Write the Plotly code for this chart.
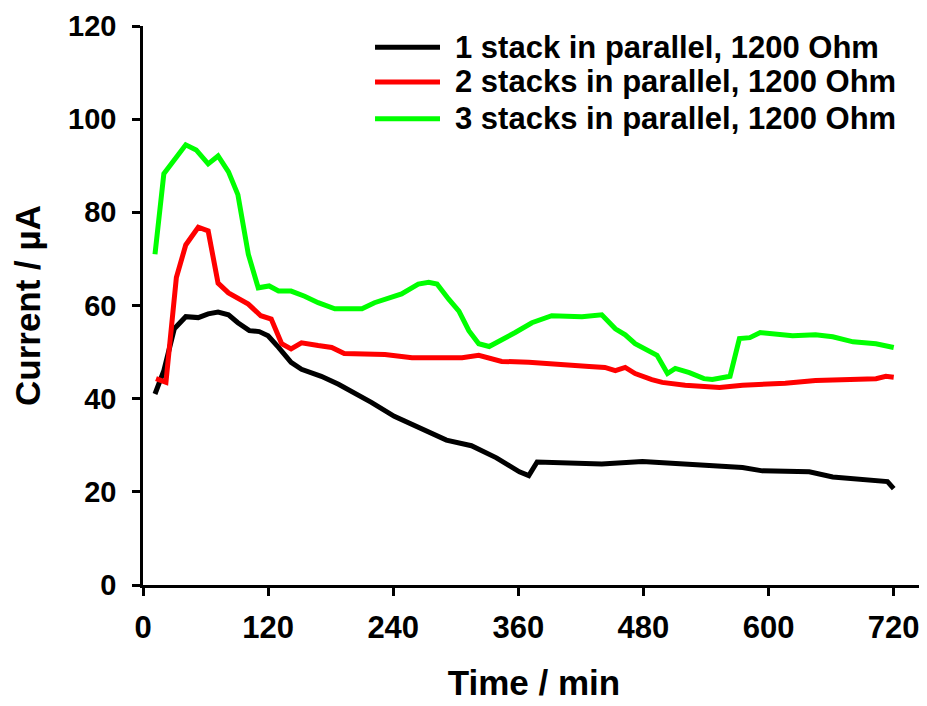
import plotly.graph_objects as go

series_names = [
    "1 stack in parallel, 1200 Ohm",
    "2 stacks in parallel, 1200 Ohm",
    "3 stacks in parallel, 1200 Ohm",
]
series_colors = ["#000000", "#FF0000", "#00FF00"]

t1 = [11.5, 20, 30, 41, 53, 62.5, 72, 82, 91, 102, 111.5, 120, 130, 142, 152, 171, 187.5,
      200, 219, 241, 258, 277, 291, 315, 339, 361, 370, 378, 402, 440, 479, 543, 575, 594,
      639, 661.5, 703, 714, 720]
i1 = [41, 46, 55, 57.6, 57.4, 58.2, 58.6, 58, 56.3, 54.6, 54.4, 53.5, 51, 47.8, 46.3, 44.8,
      43.1, 41.6, 39.2, 36.2, 34.5, 32.4, 31.1, 29.9, 27.3, 24.3, 23.5, 26.4, 26.2, 26,
      26.5, 25.8, 25.2, 24.5, 24.3, 23.2, 22.6, 22.2, 20.7]

t2 = [12.5, 22, 32, 41, 53, 62.5, 72, 82, 101, 113, 123, 133, 142, 152, 168, 181, 193,
      212.5, 232, 258, 277, 284, 306, 322, 344, 370, 386, 405, 428, 443, 453, 462.5, 472,
      488, 498, 520, 553, 575, 594, 616, 645, 681, 703, 712.5, 720]
i2 = [44.3, 43.5, 66, 73, 76.8, 76, 64.8, 62.7, 60.3, 57.8, 57.1, 51.8, 50.7, 52, 51.4,
      51, 49.7, 49.5, 49.5, 48.8, 48.8, 49, 48.8, 49.3, 48, 47.8, 47.5, 47.1, 46.9, 46.7,
      46, 46.7, 45.4, 44.1, 43.5, 42.9, 42.4, 42.9, 43.1, 43.3, 43.9, 44.3, 44.3, 44.8,
      44.6]

t3 = [11.5, 20, 41, 51, 62.5, 72, 82, 91, 101, 110.5, 121, 130, 142, 155, 168, 184, 210,
      222, 248, 264, 274, 282, 293, 303, 312.5, 322, 332, 344, 357, 373, 392, 421, 440,
      453, 462.5, 472, 488, 493, 503, 510.5, 524, 538, 546, 563, 572, 582, 592, 623, 645,
      661.5, 681, 703, 720]
i3 = [71, 88.3, 94.5, 93.4, 90.4, 92.1, 88.7, 83.8, 71, 63.8, 64.2, 63.1, 63.1, 62, 60.6,
      59.3, 59.3, 60.6, 62.5, 64.6, 65, 64.6, 61.4, 58.8, 54.6, 51.8, 51.2, 52.5, 54.2,
      56.3, 57.8, 57.6, 58, 55, 53.7, 51.8, 49.7, 49.3, 45.4, 46.5, 45.6, 44.3, 44.1,
      44.8, 52.9, 53.1, 54.2, 53.5, 53.7, 53.3, 52.2, 51.8, 51]

x_ticks = [0, 120, 240, 360, 480, 600, 720]
y_ticks = [0, 20, 40, 60, 80, 100, 120]

FONT = "Liberation Sans, Arial, sans-serif"

fig = go.Figure()
for t, v, name, col in zip([t1, t2, t3], [i1, i2, i3], series_names, series_colors):
    fig.add_trace(go.Scatter(x=t, y=v, mode="lines", name=name,
                             line=dict(color=col, width=5), showlegend=False))

# manual legend (long line samples like the reference)
legend_rows = [0.962, 0.900, 0.834]
for name, col, yy in zip(series_names, series_colors, legend_rows):
    fig.add_shape(type="line", xref="paper", yref="paper", x0=0.2967, x1=0.3798,
                  y0=yy, y1=yy, line=dict(color=col, width=5))
    fig.add_annotation(xref="paper", yref="paper", x=0.397, y=yy, text=name,
                       showarrow=False, xanchor="left", yanchor="middle",
                       font=dict(family=FONT, size=31, color="black", weight="bold"))

fig.update_layout(
    width=919, height=698,
    margin=dict(l=135, r=2, t=10, b=121),
    paper_bgcolor="white", plot_bgcolor="white",
    xaxis=dict(range=[0, 750], tickvals=x_ticks, ticktext=[str(v) for v in x_ticks],
               showgrid=False, zeroline=False, showline=True, linecolor="black",
               linewidth=2.5, ticks="outside", ticklen=8, tickwidth=2.5,
               tickcolor="black", ticklabelstandoff=5, ticklabeloverflow="allow",
               tickfont=dict(family=FONT, size=31, color="black", weight="bold"),
               title=dict(text="Time / min", standoff=27,
                          font=dict(family=FONT, size=35, color="black", weight="bold"))),
    yaxis=dict(range=[0, 120], tickvals=y_ticks, ticktext=[str(v) for v in y_ticks],
               showgrid=False, zeroline=False, showline=True, linecolor="black",
               linewidth=2.5, ticks="outside", ticklen=8, tickwidth=2.5,
               tickcolor="black", ticklabelstandoff=10, ticklabeloverflow="allow",
               tickfont=dict(family=FONT, size=29, color="black", weight="bold"),
               title=dict(text="Current / µA", standoff=18,
                          font=dict(family=FONT, size=35, color="black", weight="bold"))),
)

fig.write_html("out.html")
